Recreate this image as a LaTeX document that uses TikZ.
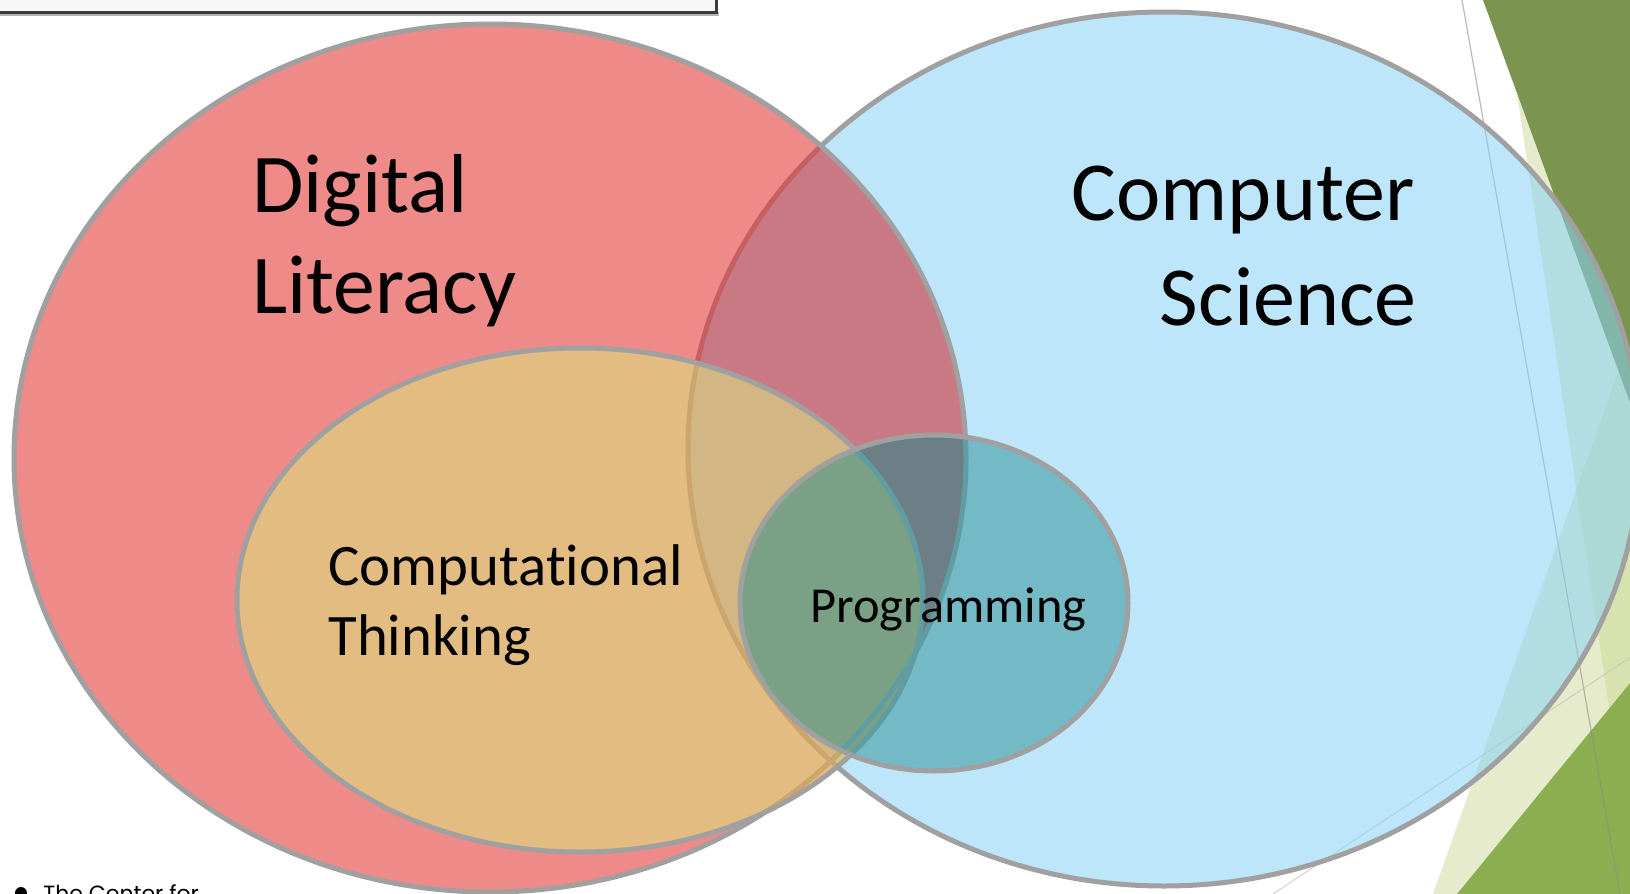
\documentclass[tikz,border=0pt]{standalone}
\usepackage{fontspec}
\setmainfont{Carlito}[Ligatures=NoCommon]
\newfontfamily\footfont{Poppins}
\begin{document}
\begin{tikzpicture}[x=0.5pt,y=-0.5pt]
% palette
\definecolor{dlfill}{HTML}{EE8A88}
\definecolor{csfill}{HTML}{89D2F6}
\definecolor{dlcs}{HTML}{C97983}
\definecolor{ctfill}{HTML}{E3BC82}
\definecolor{ctcs}{HTML}{D2B683}
\definecolor{ctonly}{HTML}{C2CC86}
\definecolor{prfill}{HTML}{74B9C6}
\definecolor{prdl}{HTML}{6D7F86}
\definecolor{prct}{HTML}{7AA186}
\definecolor{rim}{HTML}{A0A0A0}
\definecolor{rimunderdl}{HTML}{C65F62}
\definecolor{rimunderct}{HTML}{CCA56C}
\definecolor{rimunderpr}{HTML}{5F9DA3}
\definecolor{leafpale}{HTML}{C8D78C}
\definecolor{leafdark}{HTML}{7B9450}
\definecolor{leafmid}{HTML}{8AAE50}
\definecolor{boxfill}{HTML}{F7F7F7}
\definecolor{boxrim}{HTML}{3C3C3C}
\tikzset{
  setrim/.style={draw=rim, line width=2.5pt},
  tintrim/.style={draw=#1, line width=2.5pt},
  biglabel/.style={inner sep=0pt, font=\fontsize{41.8}{50}\selectfont},
  cslabel/.style={inner sep=0pt, font=\fontsize{42}{52}\selectfont},
  midlabel/.style={inner sep=0pt, font=\fontsize{29.4}{35}\selectfont},
  smalllabel/.style={inner sep=0pt, font=\fontsize{25.2}{30}\selectfont},
  hairline/.style={line width=0.6pt},
}
% the four sets
\def\ellDL{(490,458) ellipse [x radius=238pt, y radius=217pt]}
\def\ellCS{(1164,449) ellipse [x radius=238pt, y radius=218.5pt]}
\def\ellCT{(580,600) ellipse [x radius=171.5pt, y radius=126pt]}
\def\ellPR{(934,603) ellipse [x radius=97pt, y radius=84pt]}

\useasboundingbox (0,0) rectangle (1630,894);
\clip (0,0) rectangle (1630,894);
\fill[white] (0,0) rectangle (1630,894);

% facets along the right edge
\fill[leafpale, opacity=0.45] (1503,0) -- (1640,0) -- (1640,894) -- (1637,894) -- cycle;
\fill[leafpale, opacity=0.45] (1640,310) -- (1640,894) -- (1433,894) -- cycle;
\fill[leafdark] (1483,0) -- (1640,0) -- (1640,430) -- cycle;
\fill[leafmid] (1457,894) -- (1640,671) -- (1640,894) -- cycle;
\draw[hairline, black!45, opacity=0.6] (1462,0) -- (1620,894);
\draw[hairline, black!25, opacity=0.6] (1273,894) -- (1640,651);

% Computer Science
\fill[csfill, opacity=0.55] \ellCS;
\draw[setrim] \ellCS;

% Digital Literacy
\fill[dlfill] \ellDL;
\begin{scope}
  \clip \ellDL;
  \fill[dlcs] \ellCS;
  \draw[tintrim=rimunderdl] \ellCS;
\end{scope}
\draw[setrim] \ellDL;

% Computational Thinking
\fill[ctfill] \ellCT;
\begin{scope}
  \clip \ellCT;
  \fill[ctonly] \ellCS;
  \begin{scope}
    \clip \ellDL;
    \fill[ctcs] \ellCS;
  \end{scope}
  \draw[tintrim=rimunderct] \ellCS;
  \draw[tintrim=rimunderct] \ellDL;
\end{scope}
\draw[setrim] \ellCT;

% Programming
\fill[prfill] \ellPR;
\begin{scope}
  \clip \ellPR;
  \fill[prdl] \ellDL;
  \fill[prct] \ellCT;
  \draw[tintrim=rimunderpr] \ellDL;
  \draw[tintrim=rimunderpr] \ellCT;
\end{scope}
\draw[setrim] \ellPR;

% set labels
\node[biglabel, anchor=base west] (dlA) at (252,212) {Digital};
\node[biglabel, anchor=base west] (dlB) at (252,313) {Literacy};
\node[cslabel, anchor=base east] (csA) at (1415,220) {Computer};
\node[cslabel, anchor=base east] (csB) at (1417,325) {Science};
\node[midlabel, anchor=base west] (ctA) at (328,585) {Computational};
\node[midlabel, anchor=base west] (ctB) at (328,655) {Thinking};
\node[smalllabel, anchor=base west] (pr) at (810,622) {Programming};

% title box at the top
\fill[black!30] (-10,12) rectangle (719,16);
\filldraw[fill=boxfill, draw=boxrim, line width=1.5pt] (-10,-10) rectangle (716,12);

% footnote line
\fill[black] (21,893) circle [radius=3pt];
\node[inner sep=0pt, anchor=base west, font=\footfont\fontsize{11}{13}\selectfont] (foot) at (43,901) {The Center for};
\end{tikzpicture}
\end{document}
